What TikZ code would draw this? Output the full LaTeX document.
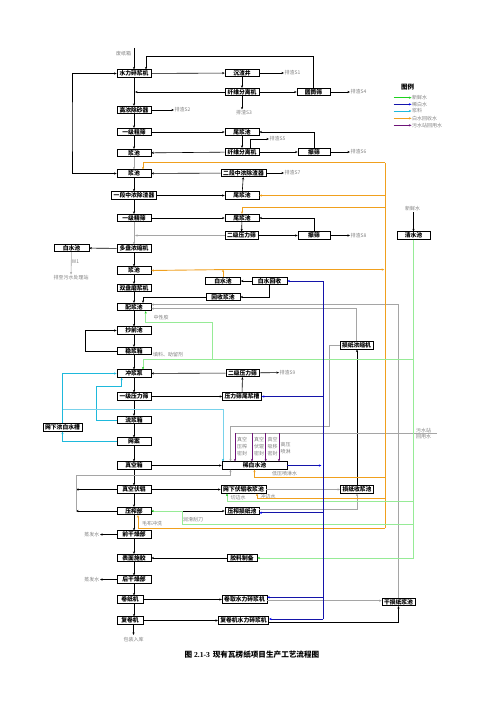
\documentclass[tikz,border=0pt]{standalone}
\usepackage{fontspec}
\newfontfamily\cjk{Noto Sans CJK SC}
\newfontfamily\capserif{Liberation Serif}
\usetikzlibrary{arrows.meta,calc}
\newcommand\boxfont{\cjk\bfseries\fontsize{5.8}{6}\selectfont}
\newcommand\labfont{\cjk\fontsize{5}{6.7}\selectfont}
\definecolor{cgreen}{RGB}{30,210,30}
\definecolor{lgreen}{RGB}{150,235,150}
\definecolor{cblue}{RGB}{20,20,170}
\definecolor{ccyan}{RGB}{30,185,220}
\definecolor{lcyan}{RGB}{120,210,235}
\definecolor{corange}{RGB}{240,160,30}
\definecolor{cpurple}{RGB}{110,20,120}
\definecolor{cgray}{RGB}{165,165,165}
\begin{document}
\begin{tikzpicture}[x=1pt,y=-1pt,
  box/.style={draw,line width=0.6pt,fill=white,minimum width=34pt,minimum height=7.5pt,inner xsep=2pt,inner ysep=0.3pt,font=\boxfont},
  lab/.style={font=\labfont,text=gray,inner sep=0.5pt,align=center},
  tip/.tip={Stealth[length=2.6pt,width=2.2pt]},
  ar/.style={-tip,line width=0.6pt},
  dar/.style={tip-tip,line width=0.6pt},
  gar/.style={-tip,line width=0.6pt,cgray},
  oar/.style={-{Stealth[length=2.6pt,width=2.2pt,color=corange]},line width=0.9pt,corange},
  gnar/.style={-{Stealth[length=2.6pt,width=2.2pt,color=cgreen]},line width=0.8pt,lgreen},
  car/.style={-{Stealth[length=2.6pt,width=2.2pt,color=ccyan]},line width=0.8pt,ccyan},
  bar/.style={-{Stealth[length=2.6pt,width=2.2pt,color=blue]},line width=0.8pt,cblue},
  par/.style={-{Stealth[length=2.6pt,width=2.2pt]},line width=0.8pt,cpurple}]
\useasboundingbox (0,0) rectangle (503,711);

% ---------- left column ----------
\node[box] (L1) at (134,73.5) {水力碎浆机};
\node[box] (L2) at (134,110) {高浓除砂器};
\node[box] (L3) at (134,132) {一级粗筛};
\node[box] (L4) at (134,153) {浆池};
\node[box] (L5) at (134,173.5) {浆池};
\node[box,minimum width=45pt] (L6) at (134,195.5) {一段中浓除渣器};
\node[box] (L7) at (134,218) {一级精筛};
\node[box] (L8) at (134,248.5) {多盘浓缩机};
\node[box] (L9) at (134,270.5) {浆池};
\node[box] (L10) at (134,288) {双盘磨浆机};
\node[box] (L11) at (134,307) {配浆池};
\node[box] (L12) at (134,330.5) {抄前池};
\node[box] (L13) at (134,351) {稳浆箱};
\node[box] (L14) at (134,373.5) {冲浆泵};
\node[box] (L15) at (134,396.5) {一级压力筛};
\node[box] (L16) at (134,420) {流浆箱};
\node[box] (L17) at (134,441.5) {网案};
\node[box] (L18) at (134,465.5) {真空箱};
\node[box] (L19) at (134,489.5) {真空伏辊};
\node[box] (L20) at (134,511) {压榨部};
\node[box] (L21) at (134,534.5) {前干燥部};
\node[box] (L22) at (134,558) {表面施胶};
\node[box] (L23) at (134,579.5) {后干燥部};
\node[box,minimum width=26pt] (L24) at (130,599.5) {卷纸机};
\node[box,minimum width=26pt] (L25) at (130,620.5) {复卷机};

\node[lab] (src) at (123.5,54) {废纸箱};
\coordinate (srcl) at (134,48);
\node[lab] (pk) at (133.5,639.5) {包装入库};

% main line
\draw[ar] (srcl) -- (L1);
\draw[ar] (L1) -- (L2);
\draw[ar] (L2) -- (L3);
\draw[ar] (L3) -- (L4);
\draw[gar] (L4) -- (L5);
\draw[ar] (L5) -- (L6);
\draw[ar] (L6) -- (L7);
\draw[gar] (L7) -- (L8);
\draw[ar] (L8) -- (L9);
\draw[ar] (L9) -- (L10);
\draw[ar] (L10) -- (L11);
\draw[ar] (L11) -- (L12);
\draw[ar] (L12) -- (L13);
\draw[ar] (L13) -- (L14);
\draw[ar] (L14) -- (L15);
\draw[ar] (L15) -- (L16);
\draw[ar] (L16) -- (L17);
\draw[ar] (L17) -- (L18);
\draw[ar] (L18) -- (L19);
\draw[ar] (L19) -- (L20);
\draw[ar] (L20) -- (L21);
\draw[ar] (L21) -- (L22);
\draw[ar] (L22) -- (L23);
\draw[ar] (L23.south) -- (L23.south |- L24.north);
\draw[ar] ($(L24.south)+(4,0)$) -- ($(L25.north)+(4,0)$);
\draw[ar] ($(L25.south)+(3.5,0)$) -- ($(pk.north)+(0,-1.5)$);

% ---------- right part ----------
\node[box] (R1) at (242,73) {沉渣井};
\node[box] (R2) at (242,92) {纤维分离机};
\node[box,minimum width=33pt] (R3) at (313.5,92) {圆筒筛};
\node[box] (R4) at (242,132) {尾浆池};
\node[box] (R5) at (242,152) {纤维分离机};
\node[box,minimum width=32pt] (R6) at (314,152) {振筛};
\node[box,minimum width=45pt] (R7) at (243.5,173) {二段中浓除渣器};
\node[box] (R8) at (242,195.5) {尾浆池};
\node[box] (R9) at (242,218) {尾浆池};
\node[box,minimum width=31pt] (R10) at (241.5,235.5) {二级压力筛};
\node[box,minimum width=32pt] (R11) at (314,235.5) {振筛};
\node[box,minimum width=33pt] (R12) at (413.5,235.5) {清水池};
\node[box,minimum width=35pt] (W1) at (71.5,248) {白水池};
\node[box,minimum width=35pt] (R13) at (223,281) {白水池};
\node[box,minimum width=35pt] (R14) at (269.5,281) {白水回收};
\node[box] (R15) at (223,297) {回收浆池};
\node[box,minimum width=33pt] (R16) at (356.5,345.5) {损纸浓缩机};
\node[box,minimum width=31pt] (R17) at (242.5,373) {二级压力筛};
\node[box] (R18) at (242,396.5) {压力筛尾浆槽};
\node[box] (X1) at (62.5,427.5) {网下浓白水槽};
\node[box,minimum width=65pt] (R19) at (254.5,465.5) {稀白水池};
\node[box,minimum width=45pt] (R20) at (243.5,489.5) {网下伏辊收浆池};
\node[box,minimum width=30pt] (R21) at (357,489.5) {损纸收浆池};
\node[box] (R22) at (242,511) {压榨损纸池};
\node[box,minimum width=30pt] (R23) at (242,558) {胶料制备};
\node[box] (R24) at (244.5,599.5) {卷取水力碎浆机};
\node[box] (R25) at (243.5,620.5) {复卷机水力碎浆机};
\node[box,minimum width=31pt] (R26) at (398.5,602) {干损纸浆池};

% labels
\node[lab,anchor=west] (S1) at (284,73) {排渣S1};
\node[lab,anchor=west] (S2) at (174,110) {排渣S2};
\node[lab] (S3) at (244,112.5) {排渣S3};
\node[lab,anchor=west] (S4) at (350,92) {排渣S4};
\node[lab,anchor=west] (S5) at (269,139) {排渣S5};
\node[lab,anchor=west] (S6) at (350,152) {排渣S6};
\node[lab,anchor=west] (S7) at (284,173) {排渣S7};
\node[lab,anchor=west] (S8) at (350,235.5) {排渣S8};
\node[lab,anchor=west] (S9) at (279,372.5) {排渣S9};
\node[lab] (fw) at (412.5,209) {新鲜水};
\node[lab] (w1t) at (75.5,262) {W1};
\node[lab] (drain) at (71,277.5) {排至污水处理站};
\node[lab] (t1) at (161,318) {中性胶};
\node[lab] (t2) at (168,355) {填料、助留剂};
\node[lab,anchor=east] (ev1) at (100,534.5) {蒸发水};
\node[lab,anchor=east] (ev2) at (100,579.5) {蒸发水};
\node[lab] (t3) at (152,523.5) {毛布冲洗};
\node[lab] (t4) at (193,520) {润滑刮刀};
\node[lab] (t5) at (238,497.5) {切边水};
\node[lab] (t6) at (268,497) {冲边水};
\node[lab] (t7) at (284.5,474) {低压喷淋水};
\node[lab,anchor=south west] (t8) at (415.5,433.3) {污水站};
\node[lab,anchor=north west] (t9) at (415.5,433.3) {回用水};
\node[lab] (p1) at (242,446.7) {真空\\压榨\\密封};
\node[lab] (p2) at (259,446.7) {真空\\伏辊\\密封};
\node[lab] (p3) at (272.5,446.7) {真空\\吸移\\密封};
\node[lab] (p4) at (285.5,448.3) {高压\\喷淋};

% top section
\coordinate (c1) at (146,56);
\draw[ar] (L1) -- (R1);
\draw[ar] (R1) -- (S1);
\draw[ar] (R1) -- (R2);
\draw[ar] (R2.west) -- ($(L1 |- R2)+(1,0)$);
\draw[ar] (R2) -- (R3);
\draw[ar] (R3) -- (S4);
\draw[ar] (R3.north) |- (c1) -- (c1 |- L1.north);
\draw[ar] (R2.south) -- (R2.south |- S3.north);
\draw[ar] (L2) -- (S2);
\draw[ar] (L3) -- (R4);
\draw[ar] (R4) -- (R5);
\draw[ar] (R5) -- (L4);
\draw[ar] (R5) -- (R6);
\draw[ar] (R6) -- (S6);
\draw[ar] (R6.north) |- (R4.east);
\coordinate (c2) at ($(R5.north)+(8.7,0)$);
\draw[ar] (c2) |- (S5.west);
\draw[ar] (L6) -- (R8);
\draw[ar] (R8) -- (R7);
\draw[ar] (R7) -- (L5);
\draw[ar] (R7) -- (S7);
\draw[ar] (L7) -- (R9);
\draw[ar] (R9) -- (R10);
\draw[ar] (R10) -- (R11);
\draw[ar] (R11) -- (S8);
\draw[ar] (R11.north) |- (R9.east);
\draw[gar] (R10.west) -- ($(L7 |- R10)+(1,0)$);
\draw[ar] (L8) -- (W1);
\draw[gar] (W1) -- (drain);
\draw[ar] (R12.north |- fw.south) -- (R12.north);
\draw[dar] (L1.west) -| (72,130) |- (L5.west);

% white water / broke
\draw[ar] (R14) -- (R13);
\draw[ar] (R14.south) |- (R15.east);
\draw[ar] (R15.west) -| ($(L11.north)+(9,0)$);
\draw[ar] (L13.west) -- ++(-31,0) |- (L12.west);
\draw[ar] (L15) -- (R18);
\draw[ar] (R18) -- (R17);
\draw[ar] (R17) -- (L14);
\draw[ar] (R17) -- (S9);
\draw[ar] (L18) -- (R19);
\draw[ar] (L19) -- (R20);
\draw[ar] (L20) -- (R22);
\draw[ar] (L21) -- (ev1);
\draw[ar] (L23) -- (ev2);
\draw[ar] (R23) -- (L22);
\draw[ar] (L24) -- (R24);
\draw[ar] (L25) -- (R25);
\coordinate (k1) at ($(R25.east)+(0,1.5)$);
\draw[ar] (k1) -| (R26.south);
\draw[ar] (R21.north) -- (R21.north |- R16.south);
\coordinate (vl1) at (76,489.5);
\coordinate (vl2) at (76,511);
\draw[ar] (L19.west) -- (vl1);
\draw[ar] (L20.west) -- (vl2);

% gray lines
\draw[gar] (R16.north) |- ($(L11.east)+(0,1.6)$);
\draw[gar] (R26.north) |- ($(L11.east)+(0,-2.4)$);
\draw[gar] (R16.west) -| (329.3,426.7) -| ($(R19.north)+(-24,0)$);
\coordinate (g1) at ($(R24.east)+(0,1.2)$);
\draw[gar] (g1) -- (g1 -| R26.west);
\draw[gar] (R20) -- (R21);
\coordinate (g2) at ($(R22.east)+(0,-2)$);
\draw[gar] (g2) -| (R21.south);
\draw[gar] (vl2) -- (76,475.7) -| ($(R19.south)+(-24,0)$);
\coordinate (rw) at (437,433.3);
\draw[cgray,line width=0.6pt] (rw) -- (235,433.3);
\foreach \xx in {235,252,265.7,279} \draw[par] (\xx,433.3) -- (\xx,433.3 |- R19.north);

% orange
\draw[corange,line width=0.9pt] (385,162.7) -- (385,528);
\draw[oar] (385,162.7) -| ($(L5.north)+(9,0)$);
\draw[oar] (385,195.5) -- (R8.east);
\draw[oar] (385,207) -| (R9.north);
\draw[oar] (R13.north) -- ++(0,-7.6);
\draw[oar] (222,269.6) -- (L9.east);
\draw[oar] (222,269.6) -- (384.3,269.6);
\draw[oar] (385,477) -| (R19.south);
\draw[oar] (385,498) -| ($(R20.south)+(13.5,0)$);
\draw[oar] (385,528) -| ($(L20.south)+(4,0)$);

% green
\draw[lgreen,line width=0.8pt] (R12.south) -- (413.5,558);
\draw[gnar] (413.5,558) -- (R23.east);
\draw[gnar] (413.5,359.5) -| ($(L14.north)+(9,0)$);
\draw[gnar] (212.7,359.5) -- (212.7,322) -| ($(L11.south)+(11.7,0)$);
\draw[gnar] (413.5,501) -| ($(R20.south)+(-16.5,0)$);
\draw[gnar] (413.5,524) -- (182,524) |- (L20.east);

% cyan
\draw[car] (X1.north) |- (L14.west);
\draw[car] (L17.west) -| (X1.south);
\draw[car] (L16.west) -| (96.7,386) -| ($(L14.south)+(-12.3,0)$);
\draw[car,lcyan,line width=0.6pt] (62.5,409) -| ($(R19.north)+(-31.5,0)$);

% blue
\draw[cblue,line width=0.9pt] (323,281) -- (323,619);
\draw[bar] (323,281) -- (R14.east);
\draw[bar] (323,396.5) -- (R18.east);
\draw[bar] (R19.east) -- (321.5,465.5);
\draw[bar] (323,512.8) -- ($(R22.east)+(0,1.8)$);
\draw[bar] (323,597.3) -- ($(R24.east)+(0,-2.2)$);
\draw[bar] (323,619) -- ($(R25.east)+(0,-1.5)$);

% legend
\node[font=\cjk\bfseries\fontsize{6.5}{7}\selectfont] (lg) at (407.5,87) {图例};
\node[lab,anchor=west] (lg1) at (411.5,97.7) {新鲜水};
\node[lab,anchor=west] (lg2) at (411.5,104.3) {稀白水};
\node[lab,anchor=west] (lg3) at (411.5,111) {浆料};
\node[lab,anchor=west] (lg4) at (411.5,118.3) {白水回收水};
\node[lab,anchor=west] (lg5) at (411.5,125.3) {污水站回用水};
\draw[-{Stealth[length=2.6pt,width=2.2pt]},cgreen,line width=0.8pt] ($(lg1.west)+(-18,0)$) -- (lg1.west);
\draw[-{Stealth[length=2.6pt,width=2.2pt,color=blue]},cblue,line width=0.8pt] ($(lg2.west)+(-18,0)$) -- (lg2.west);
\draw[-{Stealth[length=2.6pt,width=2.2pt]},ccyan,line width=0.8pt] ($(lg3.west)+(-18,0)$) -- (lg3.west);
\draw[-{Stealth[length=2.6pt,width=2.2pt]},corange,line width=0.8pt] ($(lg4.west)+(-18,0)$) -- (lg4.west);
\draw[-{Stealth[length=2.6pt,width=2.2pt]},cpurple,line width=0.8pt] ($(lg5.west)+(-18,0)$) -- (lg5.west);

% caption
\node[font=\cjk\bfseries\fontsize{7.6}{8}\selectfont] (cap) at (252,655) {图 {\capserif\bfseries 2.1-3}\hspace{3pt}现有瓦楞纸项目生产工艺流程图};
\end{tikzpicture}
\end{document}
